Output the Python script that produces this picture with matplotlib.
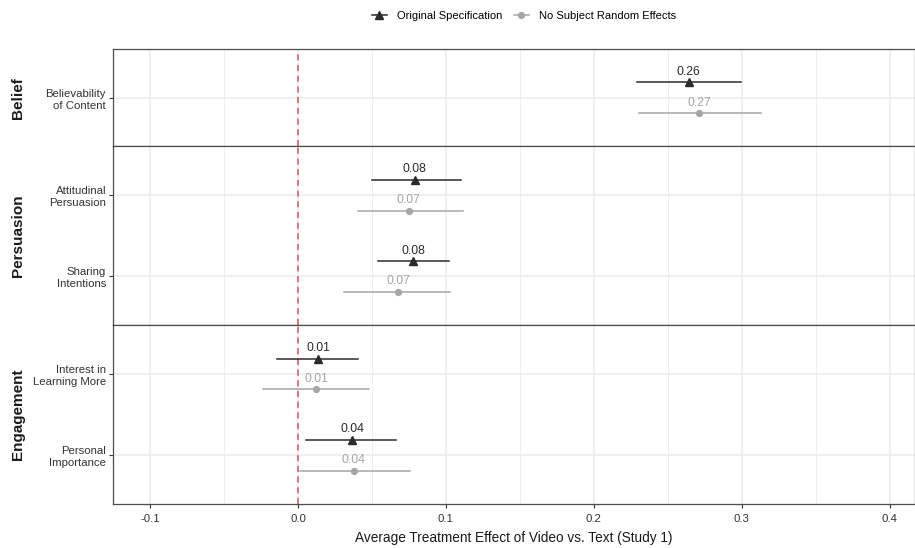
import matplotlib
matplotlib.use("Agg")
import matplotlib.pyplot as plt
from matplotlib.lines import Line2D
import numpy as np

plt.rcParams['font.family'] = ['Liberation Sans', 'DejaVu Sans']

# Facets and outcomes (top to bottom within each facet)
facets = ["Belief", "Persuasion", "Engagement"]
outcomes = [
    ["Believability\nof Content"],
    ["Attitudinal\nPersuasion", "Sharing\nIntentions"],
    ["Interest in\nLearning More", "Personal\nImportance"],
]

# Original specification: estimate, lower, upper
orig_est = [[0.264], [0.0789, 0.0780], [0.0136, 0.0366]]
orig_lo = [[0.229], [0.0499, 0.0540], [-0.0144, 0.0054]]
orig_hi = [[0.2992], [0.1100, 0.1024], [0.0409, 0.0660]]

# No subject random effects: estimate, lower, upper
nore_est = [[0.271], [0.0748, 0.0678], [0.0122, 0.0378]]
nore_lo = [[0.2307], [0.0404, 0.0312], [-0.0239, 0.0016]]
nore_hi = [[0.3132], [0.1117, 0.1026], [0.0481, 0.0759]]

series_names = ["Original Specification", "No Subject Random Effects"]
x_ticks = [-0.1, 0.0, 0.1, 0.2, 0.3, 0.4]
x_ticklabels = ["-0.1", "0.0", "0.1", "0.2", "0.3", "0.4"]
x_title = "Average Treatment Effect of Video vs. Text (Study 1)"

COL_ORIG = "#2b2b2b"
COL_NORE = "#a6a6a6"
GRID = "#ebebeb"
BORDER = "#4d4d4d"
DODGE = 0.19
TRI_MS = 5.2
DOT_MS = 4.2

W, H = 915, 548
fig = plt.figure(figsize=(W / 100, H / 100), dpi=100)

left, right = 113 / W, 915 / W
top, bottom = 1 - 49 / H, 1 - 504 / H
heights = [len(o) + 0.2 for o in outcomes]
total = sum(heights)

y_cursor = top
axes = []
for fi, facet in enumerate(facets):
    h = (top - bottom) * heights[fi] / total
    ax = fig.add_axes([left, y_cursor - h, right - left, h])
    y_cursor -= h
    axes.append(ax)

    n = len(outcomes[fi])
    pos = np.arange(n, 0, -1)  # first outcome at top

    ax.set_xlim(-0.125, 0.417)
    ax.set_ylim(0.4, n + 0.6)

    # grid
    for xv in np.arange(-0.1, 0.45, 0.1):
        ax.axvline(xv, color=GRID, lw=1.1, zorder=0)
    for xv in np.arange(-0.05, 0.45, 0.1):
        ax.axvline(xv, color=GRID, lw=0.6, zorder=0)
    for yv in pos:
        ax.axhline(yv, color=GRID, lw=1.1, zorder=0)

    ax.axvline(0, color="#d9545b", lw=1.1, ls=(0, (4, 3)), zorder=1)

    for j in range(n):
        yo = pos[j] + DODGE
        yn = pos[j] - DODGE
        ax.plot([orig_lo[fi][j], orig_hi[fi][j]], [yo, yo], color=COL_ORIG, lw=1.1, zorder=3)
        ax.plot(orig_est[fi][j], yo, marker="^", ms=TRI_MS, color=COL_ORIG, zorder=4)
        ax.text(orig_est[fi][j], yo + 0.055, f"{orig_est[fi][j]:.2f}", ha="center", va="bottom",
                fontsize=8.8, color=COL_ORIG, zorder=5)
        ax.plot([nore_lo[fi][j], nore_hi[fi][j]], [yn, yn], color=COL_NORE, lw=1.1, zorder=3)
        ax.plot(nore_est[fi][j], yn, marker="o", ms=DOT_MS, color=COL_NORE, zorder=4)
        ax.text(nore_est[fi][j], yn + 0.055, f"{nore_est[fi][j]:.2f}", ha="center", va="bottom",
                fontsize=8.8, color=COL_NORE, zorder=5)

    ax.set_yticks(pos)
    ax.set_yticklabels(outcomes[fi], ha="right", multialignment="right",
                       fontsize=8.2, color="#333333", linespacing=1.25)
    ax.tick_params(axis="y", length=3, width=0.8, color="#333333", pad=2)

    ax.set_xticks(x_ticks)
    if fi == len(facets) - 1:
        ax.set_xticklabels(x_ticklabels, fontsize=8.2, color="#333333")
        ax.tick_params(axis="x", length=3, width=0.8, color="#333333", pad=4)
    else:
        ax.tick_params(axis="x", length=0, labelbottom=False)

    for s in ax.spines.values():
        s.set_color(BORDER)
        s.set_linewidth(0.9)

    # facet strip label
    fig.text(18 / W, y_cursor + h / 2, facet, rotation=90, ha="center", va="center",
             fontsize=11, fontweight="bold", color="#1a1a1a")

fig.text(514 / W, 1 - 538 / H, x_title, ha="center", va="center",
         fontsize=9.8, color="#1a1a1a")

handles = [
    Line2D([0], [0], color=COL_ORIG, lw=1.1, marker="^", ms=TRI_MS),
    Line2D([0], [0], color=COL_NORE, lw=1.1, marker="o", ms=DOT_MS),
]
fig.legend(handles, series_names, loc="center", bbox_to_anchor=(524 / W, 1 - 16 / H),
           ncol=2, frameon=False, fontsize=8, handlelength=1.4, columnspacing=1.0,
           handletextpad=0.9)

fig.savefig("out.png", dpi=100)
